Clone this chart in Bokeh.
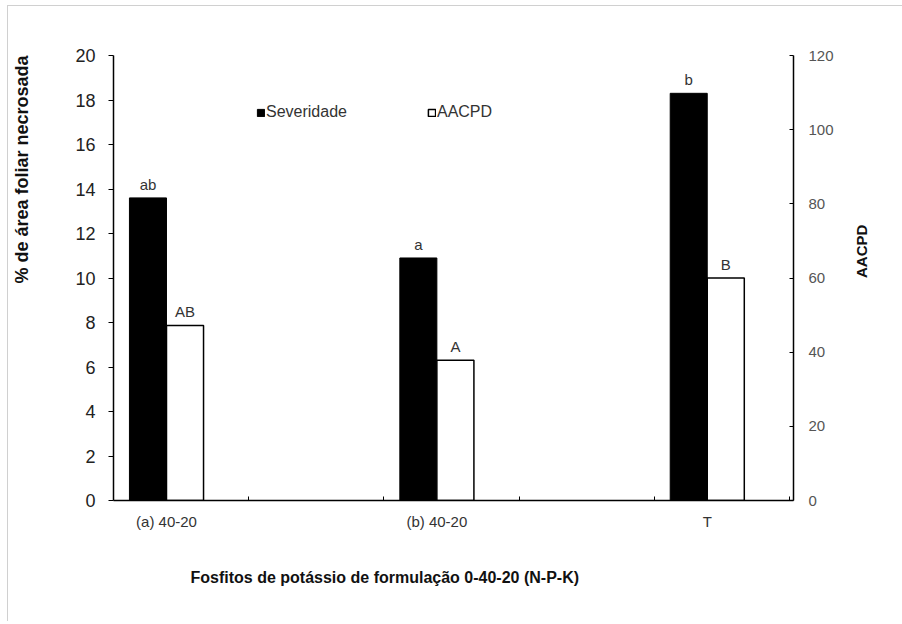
import math
from bokeh.plotting import figure
from bokeh.models import (Range1d, LinearAxis, FixedTicker, ColumnDataSource, Title,
                          Legend, LegendItem)
from bokeh.transform import dodge
from bokeh.embed import file_html
from bokeh.resources import INLINE
from bokeh.core.properties import value

# ---- data ----
categories = ["(a) 40-20", "(b) 40-20", "T"]
severidade = [13.6, 10.9, 18.3]
aacpd = [47.2, 37.8, 60.0]
sev_letters = ["ab", "a", "b"]
aacpd_letters = ["AB", "A", "B"]
left_ticks = [0, 2, 4, 6, 8, 10, 12, 14, 16, 18, 20]
right_ticks = [0, 20, 40, 60, 80, 100, 120]

FONT = "Liberation Sans"
xpos = list(range(len(categories)))
src = ColumnDataSource(dict(x=xpos, sev=severidade, aac=aacpd,
                            sl=sev_letters, al=aacpd_letters))

x_start, x_end = -0.196, 2.319
p = figure(width=895, height=616, output_backend="svg", toolbar_location=None,
           x_range=Range1d(x_start, x_end), y_range=Range1d(0, 20),
           min_border_left=105, min_border_right=110, min_border_top=49,
           min_border_bottom=122)
p.margin = (5, 0, 0, 7)
p.extra_y_ranges = {"r": Range1d(0, 120)}
p.outline_line_color = None
p.xgrid.visible = False
p.ygrid.visible = False
p.background_fill_color = "white"
p.border_fill_color = "white"
p.styles = {"border-top": "1px solid #d0d0d0", "border-left": "1px solid #d0d0d0"}

bw = 0.137
r1 = p.vbar(x=dodge("x", -bw / 2, range=p.x_range), top="sev", width=bw, source=src,
            fill_color="black", line_color="black", line_width=1)
r2 = p.vbar(x=dodge("x", bw / 2, range=p.x_range), top="aac", width=bw, source=src,
            y_range_name="r", fill_color="white", line_color="black", line_width=1.5)

p.text(x=dodge("x", -bw / 2, range=p.x_range), y="sev", text="sl", source=src,
       text_align="center", text_baseline="bottom", y_offset=-5,
       text_font=value(FONT), text_font_size="15px", text_color="#333333")
p.text(x=dodge("x", bw / 2, range=p.x_range), y="aac", text="al", source=src,
       y_range_name="r", text_align="center", text_baseline="bottom", y_offset=-5,
       text_font=value(FONT), text_font_size="15px", text_color="#333333")

# x axis
xa = p.xaxis[0]
xa.ticker = FixedTicker(ticks=xpos, minor_ticks=[x_start + 0.5 * k for k in range(1, 6)])
xa.major_label_overrides = {i: c for i, c in zip(xpos, categories)}
xa.major_tick_line_color = None
xa.major_tick_in = 0
xa.major_tick_out = 0
xa.minor_tick_in = 4
xa.minor_tick_out = 0
xa.minor_tick_line_color = "black"
xa.axis_line_color = "black"
xa.axis_line_width = 1.5
xa.major_label_standoff = 12
xa.major_label_text_font = FONT
xa.major_label_text_font_size = "15px"
xa.major_label_text_color = "#333333"

# left axis
ya = p.yaxis[0]
ya.ticker = FixedTicker(ticks=left_ticks)
ya.major_tick_out = 5
ya.major_tick_in = 0
ya.minor_tick_line_color = None
ya.axis_line_color = "black"
ya.axis_line_width = 1.5
ya.major_label_standoff = 13
ya.major_label_text_font = FONT
ya.major_label_text_font_size = "18px"
ya.major_label_text_color = "#222222"
ya.axis_label = " "
ya.axis_label_standoff = 27
ya.axis_label_text_font_size = "10px"

# right axis
ra = LinearAxis(y_range_name="r", ticker=FixedTicker(ticks=right_ticks))
ra.major_tick_out = 0
ra.major_tick_in = 4
ra.minor_tick_line_color = None
ra.axis_line_color = "black"
ra.axis_line_width = 1.5
ra.major_label_standoff = 15
ra.major_label_text_font = FONT
ra.major_label_text_font_size = "15px"
ra.major_label_text_color = "#555555"
ra.axis_label = "AACPD"
ra.axis_label_orientation = math.pi / 2
ra.axis_label_standoff = 25
ra.axis_label_text_font = FONT
ra.axis_label_text_font_size = "15px"
ra.axis_label_text_font_style = "bold"
ra.axis_label_text_color = "#111111"
p.add_layout(ra, "right")

# axis titles
p.add_layout(Title(text="% de área foliar necrosada", align="right", offset=0, standoff=0,
                   text_font=FONT, text_font_size="18px", text_font_style="bold",
                   text_color="#111111"), "left")
p.add_layout(Title(text="Fosfitos de potássio de formulação 0-40-20 (N-P-K)", align="left",
                   offset=77, standoff=69, text_font=FONT, text_font_size="16px",
                   text_font_style="bold", text_color="#111111"), "below")

legend = Legend(items=[LegendItem(label="Severidade", renderers=[r1]),
                       LegendItem(label="AACPD", renderers=[r2])],
                orientation="horizontal", location=(143, 379),
                border_line_color=None, background_fill_alpha=0,
                glyph_width=9, glyph_height=9, label_standoff=1, spacing=80,
                padding=0, margin=0, label_height=16,
                label_text_font=FONT, label_text_font_size="16px",
                label_text_color="#333333")
p.add_layout(legend)

open("out.html", "w").write(file_html(p, INLINE))
